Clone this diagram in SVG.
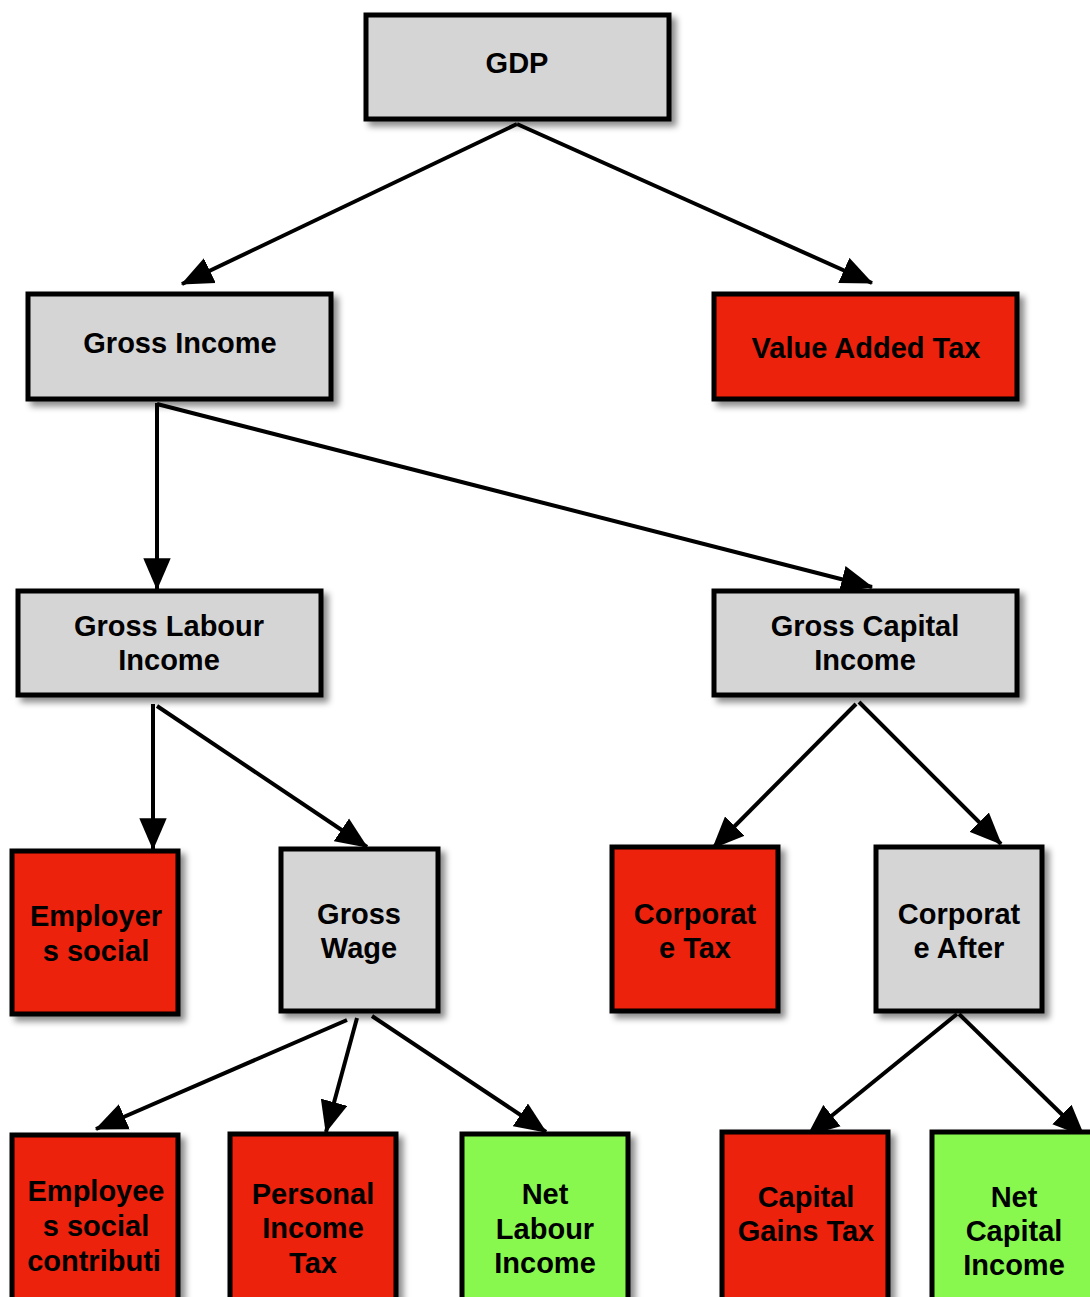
<svg xmlns="http://www.w3.org/2000/svg" width="1090" height="1297" viewBox="0 0 1090 1297">
<defs>
<filter id="sh" x="-10%" y="-10%" width="130%" height="130%">
<feDropShadow dx="5" dy="5" stdDeviation="3" flood-color="#000" flood-opacity="0.45"/>
</filter>
<marker id="ah" markerUnits="userSpaceOnUse" markerWidth="32" markerHeight="28" viewBox="0 0 28 24" refX="27" refY="12" orient="auto">
<path d="M0,0 L28,12 L0,24 Z" fill="#000"/>
</marker>
<style>
.box rect{stroke:#000;stroke-width:5;filter:url(#sh);}
.gray rect{fill:#D5D5D5;}
.red rect{fill:#EC220C;}
.green rect{fill:#88F84F;}
text{font-family:"Liberation Sans",Arial,Helvetica,sans-serif;font-weight:bold;font-size:29px;fill:#000;text-anchor:middle;}
.conn line{stroke:#000;stroke-width:4;marker-end:url(#ah);}
</style>
</defs>
<g id="connectors" class="conn">
<line x1="517" y1="124" x2="182" y2="284"/>
<line x1="517" y1="124" x2="872" y2="283"/>
<line x1="157" y1="403" x2="157" y2="589"/>
<line x1="157" y1="404" x2="872" y2="587"/>
<line x1="153" y1="704" x2="153" y2="849"/>
<line x1="157" y1="706" x2="367" y2="847"/>
<line x1="856" y1="704" x2="713" y2="848"/>
<line x1="859" y1="702" x2="1001" y2="844"/>
<line x1="347" y1="1020" x2="96" y2="1129"/>
<line x1="357" y1="1018" x2="326" y2="1132"/>
<line x1="372" y1="1016" x2="546" y2="1132"/>
<line x1="957" y1="1014" x2="808" y2="1135"/>
<line x1="959" y1="1014" x2="1084" y2="1136"/>
</g>
<g id="gdp" class="box gray"><rect x="366" y="15" width="303" height="104"/><text x="517" y="73">GDP</text></g>
<g id="gross-income" class="box gray"><rect x="28" y="294" width="303" height="105"/><text x="180" y="353">Gross Income</text></g>
<g id="vat" class="box red"><rect x="714" y="294" width="303" height="105"/><text x="866" y="358">Value Added Tax</text></g>
<g id="gross-labour" class="box gray"><rect x="18" y="591" width="303" height="104"/><text x="169" y="636">Gross Labour</text><text x="169" y="670">Income</text></g>
<g id="gross-capital" class="box gray"><rect x="714" y="591" width="303" height="104"/><text x="865" y="636">Gross Capital</text><text x="865" y="670">Income</text></g>
<g id="employers-social" class="box red"><rect x="12" y="851" width="166" height="163"/><text x="96" y="926">Employer</text><text x="96" y="961">s social</text></g>
<g id="gross-wage" class="box gray"><rect x="281" y="849" width="157" height="162"/><text x="359" y="924">Gross</text><text x="359" y="958">Wage</text></g>
<g id="corporate-tax" class="box red"><rect x="612" y="847" width="166" height="164"/><text x="695" y="924">Corporat</text><text x="695" y="958">e Tax</text></g>
<g id="corporate-after" class="box gray"><rect x="876" y="847" width="166" height="164"/><text x="959" y="924">Corporat</text><text x="959" y="958">e After</text></g>
<g id="employees-social" class="box red"><rect x="12" y="1135" width="166" height="170"/><text x="96" y="1201">Employee</text><text x="96" y="1236">s social</text><text x="94" y="1271">contributi</text></g>
<g id="personal-income-tax" class="box red"><rect x="230" y="1134" width="166" height="170"/><text x="313" y="1204">Personal</text><text x="313" y="1238">Income</text><text x="313" y="1273">Tax</text></g>
<g id="net-labour" class="box green"><rect x="462" y="1134" width="166" height="170"/><text x="545" y="1204">Net</text><text x="545" y="1239">Labour</text><text x="545" y="1273">Income</text></g>
<g id="capital-gains-tax" class="box red"><rect x="722" y="1132" width="166" height="172"/><text x="806" y="1207">Capital</text><text x="806" y="1241">Gains Tax</text></g>
<g id="net-capital" class="box green"><rect x="932" y="1132" width="166" height="172"/><text x="1014" y="1207">Net</text><text x="1014" y="1241">Capital</text><text x="1014" y="1275">Income</text></g>
</svg>
